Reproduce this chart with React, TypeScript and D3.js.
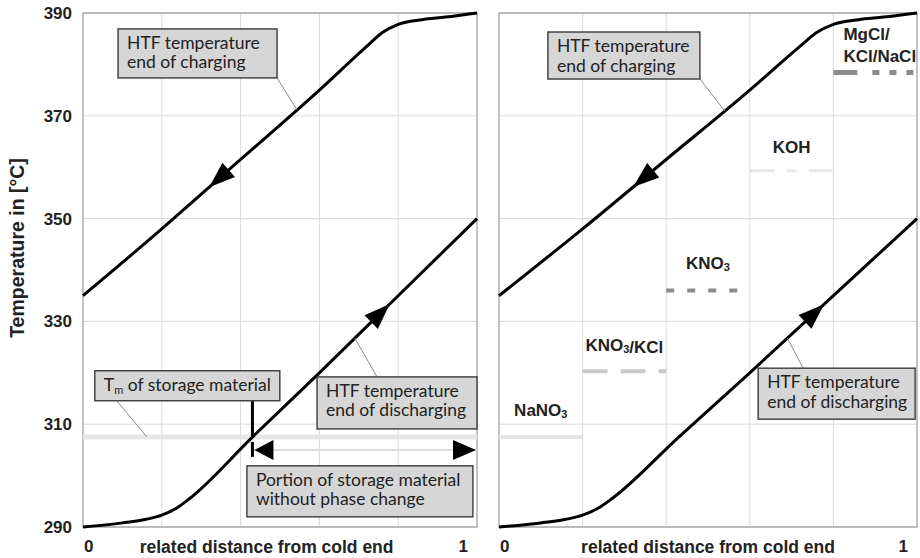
import { useEffect, useRef } from 'react'
import * as d3 from 'd3'

// HTF temperature along the storage (x = related distance from cold end)
const chargeX = [0, 0.2, 0.4, 0.6, 0.72, 0.76, 0.8, 0.86, 0.92, 1]
const chargeT = [335, 348, 361.5, 375, 383.5, 386.2, 387.8, 388.7, 389.2, 390]
const dischargeX = [0, 0.1, 0.16, 0.2, 0.24, 0.27, 0.43, 0.6, 0.8, 1]
const dischargeT = [290, 290.8, 291.5, 292.3, 293.8, 295.5, 307.5, 320, 335, 350]

const yTicks = [290, 310, 330, 350, 370, 390]
const xGrid = [0.2, 0.4, 0.6, 0.8]

// left panel: melting temperature of the storage material
const meltTemp = 307.5
const phaseChangeStart = 0.43
const portionTemp = 305

// right panel: candidate salts
const materialLabels = [['NaNO3'], ['KNO3/KCl'], ['KNO3'], ['KOH'], ['MgCl/', 'KCl/NaCl']]
const materialTm = [307.5, 320.3, 336, 359.3, 378.4]
const materialFrom = [0, 0.2, 0.4, 0.6, 0.8]
const materialTo = [0.2, 0.4, 0.6, 0.8, 1]

// styles for the salt lines
const matColor = ['#e4e4e4', '#c9c9c9', '#8c8c8c', '#e8e8e8', '#8c8c8c']
const matDash = ['none', '25,13', '8,13', '25,12,10,12', '24,15,7,10,7,10,7,10']
const matWidth = [4, 4, 4, 3, 5]
const matLabelGap = [21, 20, 22, 18, 11]

const W = 920
const H = 558
const top = 13
const bottom = 527
const panelsX = [[83, 477], [499, 917]]

const axisFont = '"Liberation Sans", Arial, sans-serif'
const boxFont = 'Lato, "Open Sans", sans-serif'

type Note = {
  panel: number
  lines: string[]
  f: number
  t: number
  w: number
  h: number
  leader?: { dx: number, dy: number, curve: 'charge' | 'discharge' | 'melt', f: number }
}

const notes: Note[] = [
  { panel: 0, lines: ['HTF temperature', 'end of charging'], f: 0.089, t: 386.9, w: 159, h: 49, leader: { dx: 159, dy: 49, curve: 'charge', f: 0.543 } },
  { panel: 0, lines: ['T_m of storage material'], f: 0.03, t: 320.4, w: 185, h: 30, leader: { dx: 22, dy: 30, curve: 'melt', f: 0.162 } },
  { panel: 0, lines: ['HTF temperature', 'end of discharging'], f: 0.594, t: 319.2, w: 160, h: 52, leader: { dx: 60, dy: 0, curve: 'discharge', f: 0.69 } },
  { panel: 0, lines: ['Portion of storage material', 'without phase change'], f: 0.416, t: 301.9, w: 226, h: 51 },
  { panel: 1, lines: ['HTF temperature', 'end of charging'], f: 0.117, t: 386.3, w: 152, h: 47, leader: { dx: 152, dy: 47, curve: 'charge', f: 0.54 } },
  { panel: 1, lines: ['HTF temperature', 'end of discharging'], f: 0.62, t: 320.9, w: 157, h: 51, leader: { dx: 45, dy: 0, curve: 'discharge', f: 0.69 } },
]

// writes text with chemical / index subscripts into a <text>
function richText(sel: d3.Selection<SVGTextElement, unknown, null, undefined>, str: string, subSize: number) {
  if (str.startsWith('T_m')) {
    sel.append('tspan').text('T')
    sel.append('tspan').attr('font-size', subSize).attr('dy', 3).text('m')
    sel.append('tspan').attr('dy', -3).text(str.slice(3))
    return
  }
  const parts = str.split(/(\d)/).filter(p => p !== '')
  parts.forEach(p => {
    if (/^\d$/.test(p)) {
      sel.append('tspan').attr('font-size', subSize).attr('dy', 2).text(p)
      sel.append('tspan').attr('dy', -2).text('')
    } else {
      sel.append('tspan').text(p)
    }
  })
}

export default function App() {
  const svgRef = useRef<SVGSVGElement>(null)

  useEffect(() => {
    if (!svgRef.current) return
    const svg = d3.select(svgRef.current)
    svg.selectAll('*').remove()

    const y = d3.scaleLinear().domain([290, 390]).range([bottom, top])
    const chargeAt = d3.scaleLinear().domain(chargeX).range(chargeT)
    const dischargeAt = d3.scaleLinear().domain(dischargeX).range(dischargeT)

    panelsX.forEach(([x0, x1], pi) => {
      const x = d3.scaleLinear().domain([0, 1]).range([x0, x1])
      const g = svg.append('g')

      // grid
      g.selectAll('line.hg').data(yTicks).join('line')
        .attr('x1', x0).attr('x2', x1)
        .attr('y1', d => y(d)).attr('y2', d => y(d))
        .attr('stroke', '#dadada').attr('stroke-width', 1)
      g.selectAll('line.vg').data(xGrid).join('line')
        .attr('x1', d => x(d)).attr('x2', d => x(d))
        .attr('y1', top).attr('y2', bottom)
        .attr('stroke', '#dadada').attr('stroke-width', 1)

      // frame
      g.append('rect')
        .attr('x', x0).attr('y', top).attr('width', x1 - x0).attr('height', bottom - top)
        .attr('fill', 'none').attr('stroke', '#9a9a9a').attr('stroke-width', 1.2)

      // y tick labels only on the left panel
      if (pi === 0) {
        const ax = g.append('g').attr('transform', `translate(${x0},0)`)
          .call(d3.axisLeft(y).tickValues(yTicks).tickSize(0).tickPadding(11).tickFormat(d3.format('d')))
        ax.select('.domain').remove()
        ax.selectAll('text')
          .attr('font-family', axisFont).attr('font-weight', 'bold')
          .attr('font-size', 17).attr('fill', '#222')
      }

      // x labels
      g.append('text').attr('x', x(0) + 1).attr('y', 552)
        .attr('font-family', axisFont).attr('font-weight', 'bold').attr('font-size', 17).attr('fill', '#222')
        .text('0')
      g.append('text').attr('x', x(1) - 9).attr('y', 552).attr('text-anchor', 'end')
        .attr('font-family', axisFont).attr('font-weight', 'bold').attr('font-size', 17).attr('fill', '#222')
        .text('1')
      g.append('text').attr('x', pi === 0 ? x(0.466) : x(0.5)).attr('y', 553).attr('text-anchor', 'middle')
        .attr('font-family', axisFont).attr('font-weight', 'bold').attr('font-size', 17.5).attr('fill', '#222')
        .text('related distance from cold end')

      if (pi === 0) {
        // melting temperature line and portion arrow line
        g.append('line')
          .attr('x1', x(0)).attr('x2', x(1)).attr('y1', y(meltTemp)).attr('y2', y(meltTemp))
          .attr('stroke', '#e6e6e6').attr('stroke-width', 5)
        g.append('line')
          .attr('x1', x(phaseChangeStart)).attr('x2', x(1)).attr('y1', y(portionTemp)).attr('y2', y(portionTemp))
          .attr('stroke', '#dcdcdc').attr('stroke-width', 2)
      } else {
        // salt melting temperatures
        materialLabels.forEach((lines, i) => {
          g.append('line')
            .attr('x1', x(materialFrom[i])).attr('x2', x(materialTo[i]))
            .attr('y1', y(materialTm[i])).attr('y2', y(materialTm[i]))
            .attr('stroke', matColor[i]).attr('stroke-width', matWidth[i])
            .attr('stroke-dasharray', matDash[i])
          const multi = lines.length > 1
          const cx = multi ? x(materialFrom[i]) + 10 : (x(materialFrom[i]) + x(materialTo[i])) / 2
          lines.forEach((ln, li) => {
            const t = g.append('text')
              .attr('x', cx)
              .attr('y', y(materialTm[i]) - matLabelGap[i] - (lines.length - 1 - li) * 22)
              .attr('text-anchor', multi ? 'start' : 'middle')
              .attr('font-family', axisFont).attr('font-weight', 'bold')
              .attr('font-size', 17).attr('fill', '#222')
            richText(t as any, ln, 11)
          })
        })
      }

      // curves
      const line = d3.line<number>().x((d) => x(d))
      g.append('path')
        .datum(chargeX)
        .attr('d', d3.line<number>().x((_, i) => x(chargeX[i])).y((_, i) => y(chargeT[i])).curve(d3.curveMonotoneX)(chargeX))
        .attr('fill', 'none').attr('stroke', '#000').attr('stroke-width', 3)
      g.append('path')
        .attr('d', d3.line<number>().x((_, i) => x(dischargeX[i])).y((_, i) => y(dischargeT[i])).curve(d3.curveMonotoneX)(dischargeX))
        .attr('fill', 'none').attr('stroke', '#000').attr('stroke-width', 3)
      void line

      // direction arrows on the curves
      const arrow = (at: (v: number) => number, f: number, reverse: boolean) => {
        const a: [number, number] = [x(f - 0.01), y(at(f - 0.01))]
        const b: [number, number] = [x(f + 0.01), y(at(f + 0.01))]
        let dx = b[0] - a[0], dy = b[1] - a[1]
        const len = Math.hypot(dx, dy)
        dx /= len; dy /= len
        if (reverse) { dx = -dx; dy = -dy }
        const cx = x(f), cy = y(at(f))
        const L = 26, Wd = 19
        const tip = [cx + dx * L / 2, cy + dy * L / 2]
        const bc = [cx - dx * L / 2, cy - dy * L / 2]
        const p1 = [bc[0] - dy * Wd / 2, bc[1] + dx * Wd / 2]
        const p2 = [bc[0] + dy * Wd / 2, bc[1] - dx * Wd / 2]
        g.append('path').attr('d', `M${tip}L${p1}L${p2}Z`).attr('fill', '#000')
      }
      arrow(chargeAt, 0.345, true)
      arrow(dischargeAt, 0.755, false)

      if (pi === 0) {
        // phase change marker and portion arrows
        g.append('line')
          .attr('x1', x(phaseChangeStart)).attr('x2', x(phaseChangeStart))
          .attr('y1', y(315.2)).attr('y2', y(meltTemp + 0.2))
          .attr('stroke', '#000').attr('stroke-width', 3)
        const py = y(portionTemp)
        const xs = x(phaseChangeStart)
        g.append('line').attr('x1', xs).attr('x2', xs).attr('y1', py - 8).attr('y2', py + 7)
          .attr('stroke', '#000').attr('stroke-width', 3)
        g.append('path').attr('d', `M${xs + 2},${py}L${xs + 21},${py - 10}L${xs + 21},${py + 10}Z`).attr('fill', '#000')
        const xe = x(1) - 1
        g.append('path').attr('d', `M${xe},${py}L${xe - 23},${py - 10}L${xe - 23},${py + 10}Z`).attr('fill', '#000')
      }

      // annotation boxes
      notes.filter(n => n.panel === pi).forEach(n => {
        const bx = x(n.f), by = y(n.t)
        if (n.leader) {
          const ld = n.leader
          const ty = ld.curve === 'charge' ? chargeAt(ld.f) : ld.curve === 'discharge' ? dischargeAt(ld.f) : meltTemp
          g.append('line')
            .attr('x1', bx + ld.dx).attr('y1', by + ld.dy)
            .attr('x2', x(ld.f)).attr('y2', y(ty))
            .attr('stroke', '#8a8a8a').attr('stroke-width', 1)
        }
        g.append('rect')
          .attr('x', bx).attr('y', by).attr('width', n.w).attr('height', n.h)
          .attr('fill', '#d6d6d6').attr('stroke', '#3a3a3a').attr('stroke-width', 1.4)
        n.lines.forEach((ln, li) => {
          const t = g.append('text')
            .attr('x', bx + 9).attr('y', by + 20 + li * 19.5)
            .attr('font-family', boxFont).attr('font-size', 17.5).attr('fill', '#222')
          richText(t as any, ln, 11)
        })
      })
    })

    // y axis title
    svg.append('text')
      .attr('transform', `translate(24,248) rotate(-90)`)
      .attr('text-anchor', 'middle')
      .attr('font-family', axisFont).attr('font-weight', 'bold').attr('font-size', 19.5).attr('fill', '#222')
      .text('Temperature in [°C]')
  }, [])

  return (
    <svg
      ref={svgRef}
      width={W}
      height={H}
      style={{ position: 'absolute', left: 0, top: 0, background: '#fff' }}
    />
  )
}
